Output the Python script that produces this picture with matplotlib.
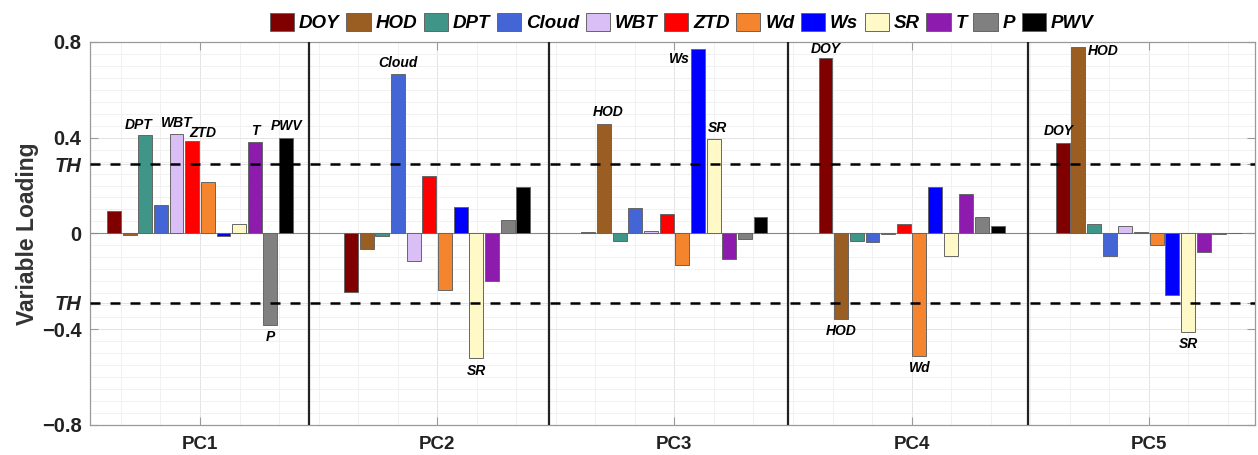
import numpy as np
import matplotlib
matplotlib.use("Agg")
import matplotlib.pyplot as plt
from matplotlib.ticker import MultipleLocator

plt.rcParams['font.family'] = ['Liberation Sans', 'DejaVu Sans']

variables = ["DOY", "HOD", "DPT", "Cloud", "WBT", "ZTD", "Wd", "Ws", "SR", "T", "P", "PWV"]
components = ["PC1", "PC2", "PC3", "PC4", "PC5"]
colors = ["#800000", "#9A5D22", "#3F9688", "#4365D6", "#DABFF7", "#FF0000",
          "#F5842E", "#0000FF", "#FFF9C8", "#8C1BAE", "#808080", "#000000"]

# loadings, one row per PC, columns in the order of `variables`
pc1 = [0.095, -0.006, 0.410, 0.120, 0.414, 0.385, 0.213, -0.010, 0.038, 0.382, -0.382, 0.400]
pc2 = [-0.245, -0.067, -0.011, 0.667, -0.117, 0.241, -0.237, 0.109, -0.522, -0.199, 0.056, 0.192]
pc3 = [0.006, 0.459, -0.031, 0.106, 0.008, 0.079, -0.131, 0.770, 0.395, -0.105, -0.022, 0.070]
pc4 = [0.731, -0.357, -0.031, -0.036, -0.003, 0.039, -0.510, 0.195, -0.093, 0.166, 0.070, 0.029]
pc5 = [0.379, 0.780, 0.039, -0.096, 0.033, 0.007, -0.049, -0.258, -0.411, -0.078, -0.002, 0.003]
loadings = np.array([pc1, pc2, pc3, pc4, pc5])

th = 1 / np.sqrt(12)

# (pc index, variable index, x offset in points, y offset in points, ha, va)
labels = [(0, 2, -5, 2, "center", "bottom"), (0, 4, 0, 3, "center", "bottom"),
          (0, 5, -2, 1, "left", "bottom"), (0, 9, 0, 3, "center", "bottom"),
          (0, 11, 0, 3, "center", "bottom"), (0, 10, 0, -4, "center", "top"),
          (1, 3, 0, 3, "center", "bottom"), (1, 8, 0, -4, "center", "top"),
          (2, 1, 3, 3, "center", "bottom"), (2, 7, -6, -2, "right", "top"),
          (2, 8, 3, 3, "center", "bottom"),
          (3, 0, 0, 2, "center", "bottom"), (3, 1, 0, -4, "center", "top"),
          (3, 6, 0, -4, "center", "top"),
          (4, 0, -3, 3, "center", "bottom"), (4, 1, 7, 2, "left", "top"),
          (4, 8, 0, -4, "center", "top")]

fig = plt.figure(figsize=(12.58, 4.55), dpi=100)
ax = fig.add_axes([0.0715, 0.066, 0.926, 0.842])

x = np.arange(1, 6)
slot = 0.066
for i, var in enumerate(variables):
    pos = x + (i - 5.5) * slot
    ax.bar(pos, loadings[:, i], width=slot * 0.89, color=colors[i],
           edgecolor="#666666", linewidth=0.7, label=var, zorder=3)

for pc, vi, dx, dy, ha, va in labels:
    xp = x[pc] + (vi - 5.5) * slot
    ax.annotate(variables[vi], (xp, loadings[pc, vi]), xytext=(dx, dy),
                textcoords="offset points", ha=ha, va=va, fontsize=10,
                fontweight="bold", fontstyle="italic", zorder=5)

ax.axhline(0, color="#888888", lw=0.8, zorder=2)
ax.axhline(th, color="black", lw=1.8, ls=(0, (4, 4)), zorder=4)
ax.axhline(-th, color="black", lw=1.8, ls=(0, (4, 4)), zorder=4)
for s in [1.46, 2.47, 3.48, 4.49]:
    ax.axvline(s, color="#222222", lw=1.6, zorder=4)

ax.set_xlim(0.536, 5.447)
ax.set_ylim(-0.8, 0.8)

ax.set_xticks(x)
ax.set_xticklabels(components, fontsize=13.5, fontweight="bold")
yt = [-0.8, -0.4, -th, 0, th, 0.4, 0.8]
ax.set_yticks(yt)
ax.set_yticklabels(["\u22120.8", "\u22120.4", "TH", "0", "TH", "0.4", "0.8"],
                   fontsize=14.5, fontweight="bold")
for lab in ax.get_yticklabels():
    if lab.get_text() == "TH":
        lab.set_fontstyle("italic")
ax.tick_params(axis="both", direction="in", top=True, right=True,
               length=6, color="#999999", labelcolor="#222222")
ax.tick_params(axis="x", pad=8)
ax.tick_params(axis="y", pad=6)
ax.tick_params(which="minor", length=0)

ax.yaxis.set_minor_locator(MultipleLocator(0.05))
ax.xaxis.set_minor_locator(MultipleLocator(1 / 6))
ax.grid(True, which="major", color="#e4e4e4", lw=0.7, zorder=0)
ax.grid(True, which="minor", color="#efefef", lw=0.6, zorder=0)
ax.set_axisbelow(True)

for sp in ax.spines.values():
    sp.set_color("#999999")
    sp.set_linewidth(0.9)

ax.set_ylabel("Variable Loading", fontsize=16.5, fontweight="bold", color="#333333", labelpad=2)

leg = ax.legend(ncol=12, loc="lower center", bbox_to_anchor=(0.508, 1.0),
                frameon=False, handlelength=1.3, handleheight=1.15,
                handletextpad=0.25, columnspacing=0.35, borderaxespad=0.1,
                prop={"weight": "bold", "style": "italic", "size": 13.5})

fig.savefig("out.png", dpi=100)
